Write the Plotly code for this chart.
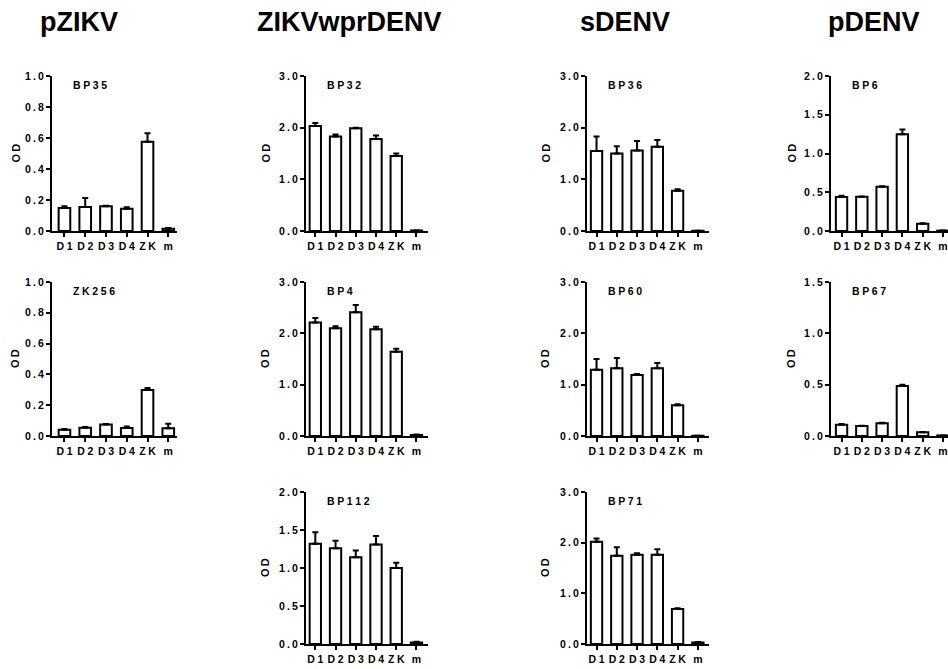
import plotly.graph_objects as go

categories = ["D1", "D2", "D3", "D4", "ZK", "m"]

group_titles = ["pZIKV", "ZIKVwprDENV", "sDENV", "pDENV"]

# panel name, values, upper error
bp35_vals = [0.148, 0.155, 0.159, 0.144, 0.576, 0.015]
bp35_err = [0.011, 0.058, 0.004, 0.009, 0.054, 0.004]
zk256_vals = [0.041, 0.054, 0.074, 0.052, 0.298, 0.050]
zk256_err = [0.004, 0.004, 0.004, 0.009, 0.013, 0.030]

bp32_vals = [2.03, 1.83, 1.99, 1.78, 1.45, 0.01]
bp32_err = [0.06, 0.04, 0.01, 0.07, 0.05, 0.0]
bp4_vals = [2.21, 2.10, 2.41, 2.08, 1.64, 0.02]
bp4_err = [0.09, 0.04, 0.14, 0.05, 0.06, 0.01]
bp112_vals = [1.32, 1.26, 1.14, 1.31, 1.00, 0.02]
bp112_err = [0.15, 0.10, 0.09, 0.11, 0.07, 0.01]

bp36_vals = [1.55, 1.50, 1.56, 1.63, 0.78, 0.005]
bp36_err = [0.28, 0.14, 0.18, 0.13, 0.03, 0.0]
bp60_vals = [1.29, 1.32, 1.19, 1.32, 0.60, 0.005]
bp60_err = [0.21, 0.20, 0.02, 0.10, 0.02, 0.0]
bp71_vals = [2.02, 1.74, 1.76, 1.76, 0.69, 0.03]
bp71_err = [0.06, 0.17, 0.03, 0.11, 0.015, 0.01]

bp6_vals = [0.44, 0.443, 0.572, 1.25, 0.095, 0.005]
bp6_err = [0.016, 0.002, 0.004, 0.06, 0.004, 0.0]
bp67_vals = [0.11, 0.098, 0.124, 0.486, 0.036, 0.005]
bp67_err = [0.007, 0.003, 0.006, 0.014, 0.003, 0.0]

# (label, values, errors, ymax, yticks, col, row)
panels = [
    ("BP35", bp35_vals, bp35_err, 1.0, [0.0, 0.2, 0.4, 0.6, 0.8, 1.0], 0, 0),
    ("ZK256", zk256_vals, zk256_err, 1.0, [0.0, 0.2, 0.4, 0.6, 0.8, 1.0], 0, 1),
    ("BP32", bp32_vals, bp32_err, 3.0, [0.0, 1.0, 2.0, 3.0], 1, 0),
    ("BP4", bp4_vals, bp4_err, 3.0, [0.0, 1.0, 2.0, 3.0], 1, 1),
    ("BP112", bp112_vals, bp112_err, 2.0, [0.0, 0.5, 1.0, 1.5, 2.0], 1, 2),
    ("BP36", bp36_vals, bp36_err, 3.0, [0.0, 1.0, 2.0, 3.0], 2, 0),
    ("BP60", bp60_vals, bp60_err, 3.0, [0.0, 1.0, 2.0, 3.0], 2, 1),
    ("BP71", bp71_vals, bp71_err, 3.0, [0.0, 1.0, 2.0, 3.0], 2, 2),
    ("BP6", bp6_vals, bp6_err, 2.0, [0.0, 0.5, 1.0, 1.5, 2.0], 3, 0),
    ("BP67", bp67_vals, bp67_err, 1.5, [0.0, 0.5, 1.0, 1.5], 3, 1),
]

W, H = 948, 669
# pixel layout
col_px = [(52, 177), (306, 428), (587, 709), (831, 948)]
col_range = [(-0.6, 5.42), (-0.46, 5.57), (-0.47, 5.55), (-0.52, 5.25)]
col_od = [37, 41, 42, 40]
row_px = [(76, 231), (282, 436), (492, 644)]
title_x = [79, 349, 625, 874]

FONT = "Liberation Sans, Arial, Helvetica, sans-serif"
THIN = "\u2009"
WIDE = "\u2005"


def spaced(s, sep=THIN):
    return sep.join(list(s))


fig = go.Figure()
layout = dict(
    width=W, height=H,
    margin=dict(l=0, r=0, t=0, b=0, autoexpand=False),
    paper_bgcolor="white", plot_bgcolor="white",
    showlegend=False,
    font=dict(family=FONT, color="black", size=11, weight="bold"),
    bargap=0.44,
)
annotations = []
tfont = dict(size=10.5, family=FONT, weight="bold", color="black")

for i, (name, vals, errs, ymax, yticks, c, r) in enumerate(panels):
    n = "" if i == 0 else str(i + 1)
    xa, ya = "x" + n, "y" + n
    fig.add_trace(go.Bar(
        x=categories, y=vals, xaxis=xa, yaxis=ya,
        marker=dict(color="white", line=dict(color="black", width=2)),
        width=0.56,
        error_y=dict(type="data", array=errs, arrayminus=[0] * len(errs),
                     symmetric=False, color="black", thickness=2, width=3),
        hoverinfo="skip",
    ))
    x0, x1 = col_px[c]
    y0, y1 = row_px[r]
    layout["xaxis" + n] = dict(
        domain=[x0 / W, x1 / W], anchor=ya, automargin=False,
        type="category", range=list(col_range[c]),
        tickvals=categories, ticktext=[spaced(s, WIDE) for s in categories],
        showline=True, linecolor="black", linewidth=2,
        ticks="outside", ticklen=4, tickwidth=2, tickcolor="black",
        showgrid=False, zeroline=False, fixedrange=True,
        tickfont=tfont,
    )
    layout["yaxis" + n] = dict(
        domain=[1 - y1 / H, 1 - y0 / H], anchor=xa, automargin=False,
        range=[0, ymax],
        tickvals=yticks, ticktext=[spaced(f"{v:.1f}") for v in yticks],
        showline=True, linecolor="black", linewidth=2,
        ticks="outside", ticklen=4, tickwidth=2, tickcolor="black",
        showgrid=False, zeroline=False, fixedrange=True,
        tickfont=tfont,
    )
    annotations.append(dict(
        text=spaced(name, WIDE), xref=xa + " domain", yref=ya + " domain",
        x=0, y=1, xanchor="left", yanchor="middle", xshift=19, yshift=-9,
        showarrow=False, font=tfont,
    ))
    annotations.append(dict(
        text=spaced("OD"), xref=xa + " domain", yref=ya + " domain",
        x=0, y=0.5, xanchor="center", yanchor="middle", xshift=-col_od[c],
        textangle=-90, showarrow=False,
        font=dict(size=11, family=FONT, weight="bold", color="black"),
    ))

for c, t in enumerate(group_titles):
    annotations.append(dict(
        text=t, xref="paper", yref="paper", x=title_x[c] / W, y=1 - 22 / H,
        xanchor="center", yanchor="middle", showarrow=False,
        font=dict(size=27, family=FONT, weight="bold", color="black"),
    ))

layout["annotations"] = annotations
fig.update_layout(**layout)
fig.write_html(
    "out.html",
    config={"displayModeBar": False},
    post_script="document.body.style.margin='0px';document.body.style.overflow='hidden';",
)
